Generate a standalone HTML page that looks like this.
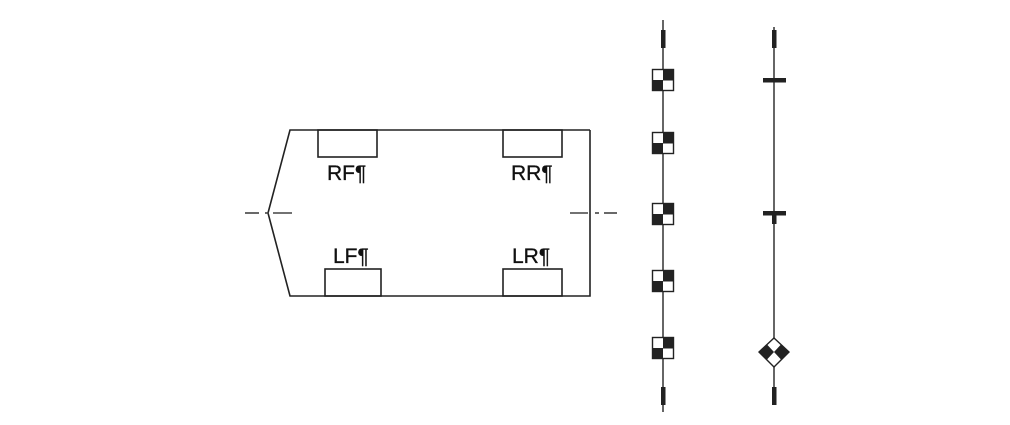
<!DOCTYPE html>
<html><head><meta charset="utf-8"><style>html,body{margin:0;padding:0;background:#fff}svg{display:block}</style></head>
<body>
<svg width="1010" height="425" viewBox="0 0 1010 425" xmlns="http://www.w3.org/2000/svg">
<g fill="none" stroke="#222" stroke-width="1.6">
<polyline points="590,130 290,130 268,213 290,296 590,296 590,130"/>
<rect x="318" y="130" width="59" height="27"/>
<rect x="503" y="130" width="59" height="27"/>
<rect x="325" y="269" width="56" height="27"/>
<rect x="503" y="269" width="59" height="27"/>
</g>
<g stroke="#444" stroke-width="1.6">
<line x1="245" y1="213" x2="259" y2="213"/><line x1="265" y1="213" x2="269" y2="213"/><line x1="273" y1="213" x2="292" y2="213"/>
<line x1="570" y1="213" x2="588" y2="213"/><line x1="595" y1="213" x2="599" y2="213"/><line x1="604" y1="213" x2="617" y2="213"/>
</g>
<g font-family="Liberation Sans, sans-serif" font-size="21" fill="#111" stroke="#111" stroke-width="0.3">
<text x="327" y="180">RF¶</text>
<text x="511" y="180">RR¶</text>
<text x="333" y="263">LF¶</text>
<text x="512" y="263">LR¶</text>
</g>
<line x1="663" y1="20" x2="663" y2="412" stroke="#333" stroke-width="1.5"/>
<rect x="661" y="30" width="4.5" height="18" fill="#222"/>
<rect x="661" y="387" width="4.5" height="18" fill="#222"/>
<g id="ck">
<rect x="652.5" y="69.5" width="21" height="21" fill="#fff" stroke="#222" stroke-width="1.4"/>
<rect x="663" y="70" width="10.5" height="10.5" fill="#222"/>
<rect x="652.5" y="80" width="10.5" height="10.5" fill="#222"/>
</g>
<use href="#ck" y="63"/>
<use href="#ck" y="134"/>
<use href="#ck" y="201"/>
<use href="#ck" y="268"/>
<line x1="774" y1="27" x2="774" y2="405" stroke="#333" stroke-width="1.5"/>
<rect x="772" y="30" width="4.5" height="18" fill="#222"/>
<rect x="772" y="387" width="4.5" height="18" fill="#222"/>
<rect x="763" y="78" width="23" height="4.5" fill="#222"/>
<rect x="763" y="211" width="23" height="4.5" fill="#222"/>
<rect x="772" y="211" width="4.5" height="13" fill="#222"/>
<polygon points="774,338 789,352 774,367 759,352" fill="#fff" stroke="#222" stroke-width="1.4"/>
<polygon points="759,352 767,344.5 774,352 767,359.5" fill="#222"/>
<polygon points="789,352 781,344.5 774,352 781,359.5" fill="#222"/>
</svg>
</body></html>
